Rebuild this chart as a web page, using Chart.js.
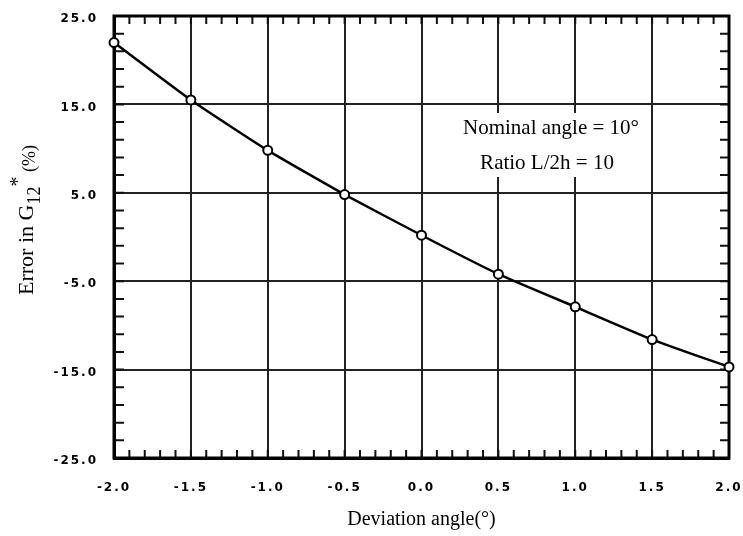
<!DOCTYPE html>
<html>
<head>
<meta charset="utf-8">
<script src="https://cdn.jsdelivr.net/npm/chart.js@4"></script>
<style>
	body { margin: 0; background: #fff; }
</style>
</head>
<body>
<canvas id="graph" width="743" height="536"></canvas>
<script>
// values
const angles = [-2.0, -1.5, -1.0, -0.5, 0.0, 0.5, 1.0, 1.5, 2.0];
const errors = [22.0, 15.5, 9.8, 4.8, 0.2, -4.2, -7.9, -11.6, -14.7];
const xTicks = [-2.0, -1.5, -1.0, -0.5, 0.0, 0.5, 1.0, 1.5, 2.0];
const yTicks = [-25, -15, -5, 5, 15, 25];
const noteLines = ["Nominal angle = 10°", "Ratio L/2h = 10"];
const xTitle = "Deviation angle(°)";

const serif = "'Liberation Serif', 'Times New Roman', serif";

// frame, minor ticks, titles and note box
const decor = {
	id: "decor",
	beforeDraw(chart) {
		chart.ctx.letterSpacing = "2px";
	},
	beforeDatasetsDraw(chart) {
		const ctx = chart.ctx;
		const x = chart.scales.x;
		const y = chart.scales.y;
		const a = chart.chartArea;
		ctx.save();
		ctx.letterSpacing = "0px";

		// white box behind the note
		ctx.fillStyle = "#fff";
		ctx.fillRect(x.getPixelForValue(0.22), 113, x.getPixelForValue(1.4) - x.getPixelForValue(0.22), 64);

		ctx.strokeStyle = "#111";
		ctx.lineWidth = 2;
		ctx.beginPath();
		for (let i = 0; i <= 40; i++) {
			const px = x.getPixelForValue(-2 + i * 0.1);
			ctx.moveTo(px, a.bottom);
			ctx.lineTo(px, a.bottom - 8);
			ctx.moveTo(px, a.top);
			ctx.lineTo(px, a.top + 8);
		}
		for (let i = 0; i <= 25; i++) {
			const py = y.getPixelForValue(-25 + i * 2);
			ctx.moveTo(a.left, py);
			ctx.lineTo(a.left + 10, py);
			ctx.moveTo(a.right, py);
			ctx.lineTo(a.right - 9, py);
		}
		ctx.stroke();

		ctx.lineWidth = 3;
		ctx.strokeStyle = "#000";
		ctx.strokeRect(a.left, a.top, a.right - a.left, a.bottom - a.top);

		// note text
		ctx.fillStyle = "#000";
		ctx.font = "21px " + serif;
		ctx.textAlign = "center";
		ctx.textBaseline = "middle";
		ctx.fillText(noteLines[0], 551, 128);
		ctx.fillText(noteLines[1], 547, 163);
		ctx.restore();
	},
	afterDraw(chart) {
		const ctx = chart.ctx;
		const a = chart.chartArea;
		ctx.save();
		ctx.letterSpacing = "0px";
		ctx.fillStyle = "#000";

		// x title
		ctx.font = "20px " + serif;
		ctx.textAlign = "center";
		ctx.textBaseline = "middle";
		ctx.fillText(xTitle, (a.left + a.right) / 2, 520);

		// y title with subscript and superscript, drawn from its bottom end
		ctx.textBaseline = "alphabetic";
		ctx.textAlign = "left";
		const parts = [
			["Error in G", "22px " + serif, 0],
			["12", "18px " + serif, 7],
			["*", "20px " + serif, -9],
			[" (%)", "18px " + serif, 2],
		];
		ctx.translate(33, 295);
		ctx.rotate(-Math.PI / 2);
		let cx = 0;
		parts.forEach((p) => {
			ctx.font = p[1];
			ctx.fillText(p[0], cx, p[2]);
			cx += ctx.measureText(p[0]).width;
		});
		ctx.restore();
		chart.ctx.letterSpacing = "0px";
	},
};

const ctx = document.getElementById("graph").getContext("2d");
const lineChart = new Chart(ctx, {
	type: "line",
	data: {
		datasets: [
			{
				data: angles.map((a, i) => ({ x: a, y: errors[i] })),
				borderColor: "#000",
				borderWidth: 2.5,
				tension: 0.15,
				pointRadius: 4.5,
				pointBorderWidth: 2,
				pointBackgroundColor: "#fff",
				pointBorderColor: "#000",
				clip: false,
			},
		],
	},
	options: {
		responsive: false,
		animation: false,
		devicePixelRatio: 1,
		layout: { padding: { top: 16, right: 14, left: 0, bottom: 0 } },
		plugins: {
			legend: { display: false },
			tooltip: { enabled: false },
		},
		scales: {
			x: {
				type: "linear",
				min: -2,
				max: 2,
				afterBuildTicks: (s) => {
					s.ticks = xTicks.map((v) => ({ value: v }));
				},
				afterFit: (s) => {
					s.height = 78;
					s.paddingLeft = 0;
					s.paddingRight = 0;
				},
				grid: { color: "#222", lineWidth: 2, drawTicks: false },
				border: { color: "#000", width: 3 },
				ticks: {
					padding: 23,
					color: "#000",
					font: { family: "'DejaVu Sans', Arial, sans-serif", size: 12, weight: "bold" },
					callback: (v) => v.toFixed(1),
				},
			},
			y: {
				min: -25,
				max: 25,
				afterBuildTicks: (s) => {
					s.ticks = yTicks.map((v) => ({ value: v }));
				},
				afterFit: (s) => {
					s.width = 114;
					s.paddingTop = 0;
					s.paddingBottom = 0;
				},
				grid: { color: "#222", lineWidth: 2, drawTicks: false },
				border: { color: "#000", width: 3 },
				ticks: {
					padding: 16,
					labelOffset: 3,
					color: "#000",
					font: { family: "'DejaVu Sans', Arial, sans-serif", size: 12, weight: "bold" },
					callback: (v) => v.toFixed(1),
				},
			},
		},
	},
	plugins: [decor],
});
</script>
</body>
</html>
